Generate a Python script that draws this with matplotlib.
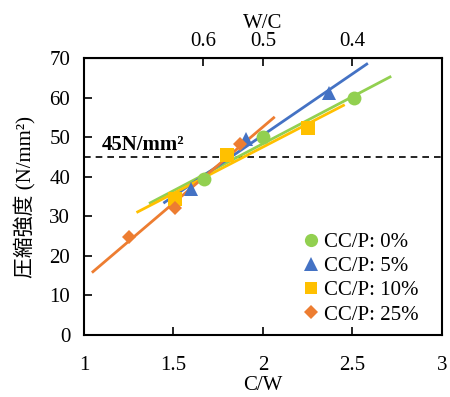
import matplotlib
matplotlib.use("Agg")
import matplotlib.pyplot as plt
import numpy as np

# ── Data ─────────────────────────────────────────────────────────────
labels = ["CC/P: 0%", "CC/P: 5%", "CC/P: 10%", "CC/P: 25%"]
cw_0 = [1.67, 2.00, 2.51]
fc_0 = [39.5, 50.0, 59.8]
cw_5 = [1.60, 1.905, 2.37]
fc_5 = [37.0, 49.5, 61.2]
cw_10 = [1.51, 1.80, 2.25]
fc_10 = [34.4, 45.5, 52.3]
cw_25 = [1.25, 1.51, 1.87]
fc_25 = [24.7, 32.0, 48.3]
# x extent of each linear trend line
trend_range = [(1.37, 2.71), (1.45, 2.58), (1.30, 2.45), (1.05, 2.06)]
target_strength = 45
wc_ticks = [0.6, 0.5, 0.4]

colors = ["#92D050", "#4472C4", "#FFC000", "#ED7D31"]
markers = ["o", "^", "s", "D"]
msizes = [10, 10, 9.5, 7.5]

plt.rcParams["font.family"] = ["Liberation Serif", "Noto Sans CJK JP"]
plt.rcParams["font.size"] = 15

fig = plt.figure(figsize=(4.5, 3.97), dpi=100)
ax = fig.add_axes([0.1867, 0.156, 0.7953, 0.698])

series = [(cw_0, fc_0), (cw_5, fc_5), (cw_10, fc_10), (cw_25, fc_25)]
for (x, y), (x0, x1), c, m, ms, lab in zip(series, trend_range, colors,
                                           markers, msizes, labels):
    k, b = np.polyfit(x, y, 1)
    xs = np.array([x0, x1])
    ax.plot(xs, k * xs + b, color=c, linewidth=2, zorder=2)
    ax.plot(x, y, linestyle="none", marker=m, markersize=ms, color=c,
            markeredgewidth=0, label=lab, zorder=3)

ax.axhline(target_strength, color="black", linestyle=(0, (4, 3)),
           linewidth=1.2, zorder=1)
ax.text(1.1, 45.6, "45N/mm²", fontweight="bold", fontsize=15,
        ha="left", va="bottom")

ax.set_xlim(1, 3)
ax.set_ylim(0, 70)
ax.set_xticks([1, 1.5, 2, 2.5, 3])
ax.set_xticklabels(["1", "1.5", "2", "2.5", "3"])
ax.set_yticks(range(0, 71, 10))
ax.tick_params(direction="in", length=6, width=1.2, top=False, right=False)
ax.tick_params(axis="x", pad=15)
ax.tick_params(axis="y", pad=10)
for s in ax.spines.values():
    s.set_linewidth(1.5)

ax.set_xlabel("C/W", labelpad=1)
ax.set_ylabel("圧縮強度 (N/mm²)", labelpad=9)

top = ax.secondary_xaxis("top", functions=(lambda v: 1 / v, lambda v: 1 / v))
top.set_xticks(wc_ticks)
top.set_xticklabels(["0.6", "0.5", "0.4"])
top.tick_params(direction="in", length=6, width=1.2, pad=5)
top.set_xlabel("W/C", labelpad=3)

ax.legend(loc="lower right", frameon=False, handletextpad=0.15,
          handlelength=1.0, labelspacing=0.22, borderaxespad=0.1,
          markerscale=0.95, bbox_to_anchor=(0.965, 0.0))

fig.savefig("out.png", dpi=100, facecolor="white")
